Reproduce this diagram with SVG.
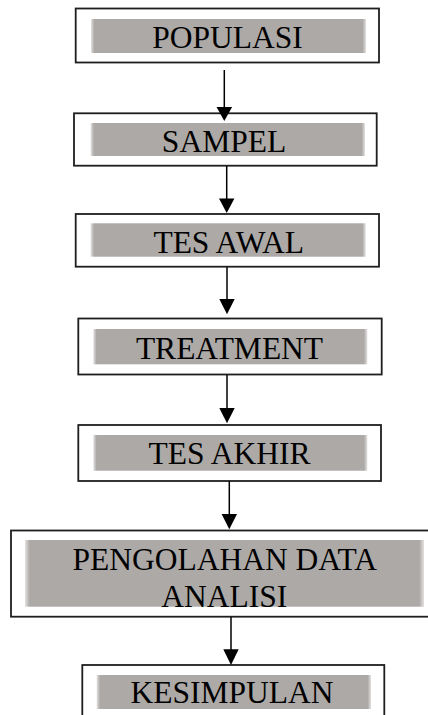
<svg xmlns="http://www.w3.org/2000/svg" width="428" height="715" viewBox="0 0 428 715">
<style>
.box{fill:#ffffff;stroke:#1e1e1e;stroke-width:1.8}
.bar{fill:url(#barg)}
.lbl{font-family:"Liberation Serif","Times New Roman",serif;font-size:31.5px;fill:#000;text-anchor:middle}
.con{stroke:#000;stroke-width:1.5;fill:none}
.head{fill:#000}
</style>
<defs>
<linearGradient id="barg" x1="0" y1="0" x2="1" y2="0">
<stop offset="0" stop-color="#e4e2e1"/>
<stop offset="0.012" stop-color="#acA9a7"/>
<stop offset="0.988" stop-color="#aca9a7"/>
<stop offset="1" stop-color="#e4e2e1"/>
</linearGradient>
</defs>
<rect width="428" height="715" fill="#ffffff"/>
<g id="populasi">
<rect class="box" x="75.7" y="8.5" width="303.3" height="54"/>
<rect class="bar" x="91" y="19" width="275" height="34"/>
<text class="lbl" x="227.5" y="47.7">POPULASI</text>
</g>
<g id="sampel">
<rect class="box" x="74" y="113.3" width="302.7" height="52.4"/>
<rect class="bar" x="90.7" y="123" width="274.3" height="33"/>
<text class="lbl" x="224" y="151.7">SAMPEL</text>
</g>
<g id="tes-awal">
<rect class="box" x="75.7" y="214" width="303.3" height="52.7"/>
<rect class="bar" x="90.7" y="223.3" width="275" height="33.4"/>
<text class="lbl" x="228.7" y="253.3">TES AWAL</text>
</g>
<g id="treatment">
<rect class="box" x="78.3" y="318.5" width="303.4" height="56"/>
<rect class="bar" x="93.3" y="329" width="274" height="35.3"/>
<text class="lbl" x="229.5" y="359">TREATMENT</text>
</g>
<g id="tes-akhir">
<rect class="box" x="78.3" y="425" width="302.7" height="56"/>
<rect class="bar" x="93.3" y="435" width="274" height="35.7"/>
<text class="lbl" x="229.5" y="464.3">TES AKHIR</text>
</g>
<g id="pengolahan">
<rect class="box" x="11" y="530.5" width="430" height="86.2"/>
<rect class="bar" x="25" y="540" width="399" height="66.7"/>
<text class="lbl" x="224.7" y="570">PENGOLAHAN DATA</text>
<text class="lbl" x="224.2" y="606.7">ANALISI</text>
</g>
<g id="kesimpulan">
<rect class="box" x="82.3" y="665" width="302" height="60"/>
<rect class="bar" x="96.7" y="675" width="274.3" height="34"/>
<text class="lbl" x="232" y="703.3">KESIMPULAN</text>
</g>
<g id="connectors">
<line class="con" x1="224.3" y1="70" x2="224.3" y2="108"/>
<polygon class="head" points="216.5,107 232.1,107 224.3,121"/>
<line class="con" x1="226.7" y1="166" x2="226.7" y2="199"/>
<polygon class="head" points="219,198.5 234.4,198.5 226.7,213"/>
<line class="con" x1="227" y1="267" x2="227" y2="300"/>
<polygon class="head" points="219.3,299 234.7,299 227,314.3"/>
<line class="con" x1="227" y1="375" x2="227" y2="409"/>
<polygon class="head" points="219.3,408 234.7,408 227,423.3"/>
<line class="con" x1="229.3" y1="481" x2="229.3" y2="515"/>
<polygon class="head" points="221.6,514 237,514 229.3,529.3"/>
<line class="con" x1="231" y1="617" x2="231" y2="650"/>
<polygon class="head" points="223.3,649.3 238.7,649.3 231,665"/>
</g>
</svg>
